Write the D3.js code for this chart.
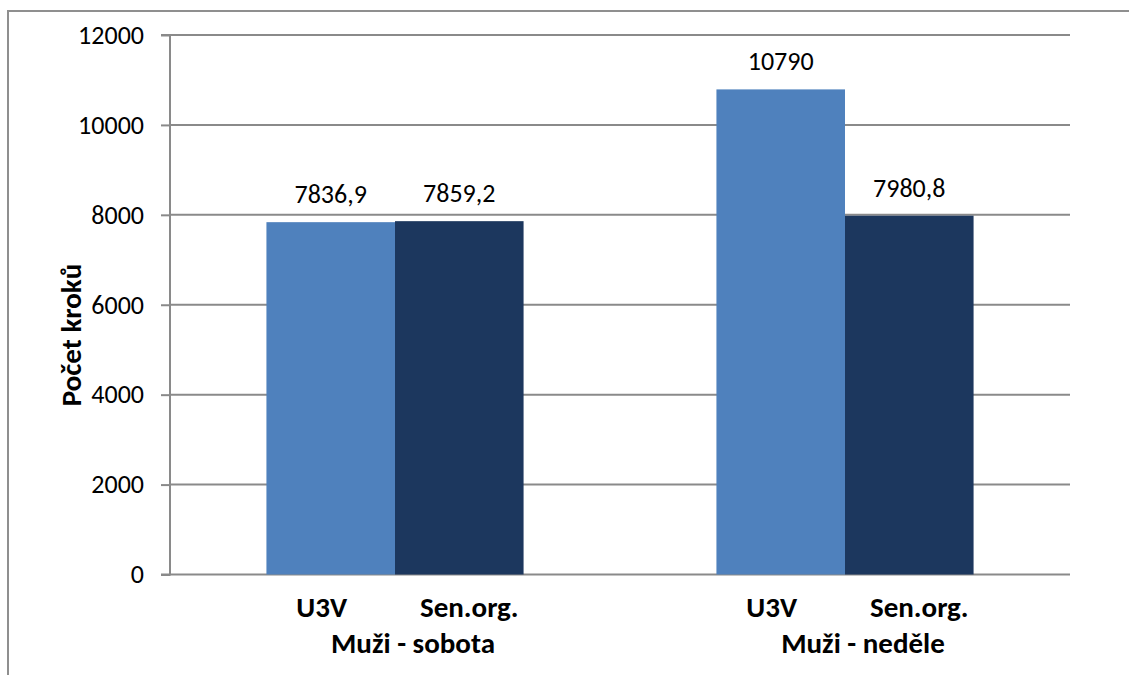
<!DOCTYPE html>
<html>
<head>
<meta charset="utf-8">
<script src="https://cdn.jsdelivr.net/npm/d3@7"></script>
<style>
  html, body { margin: 0; padding: 0; background: #ffffff; }
  svg { display: block; font-family: Carlito, Lato, "Open Sans", sans-serif; }
</style>
</head>
<body>
<svg id="chart" width="1129" height="675"></svg>
<script>
// Average daily step counts for men, weekend days, by group
const categories = ["Muži - sobota", "Muži - neděle"];
const seriesNames = ["U3V", "Sen.org."];
const u3vValues = [7836.9, 10790];
const senOrgValues = [7859.2, 7980.8];
const valueLabels = [["7836,9", "7859,2"], ["10790", "7980,8"]];
const yTicks = [0, 2000, 4000, 6000, 8000, 10000, 12000];
const yTitle = "Počet kroků";

const seriesColors = ["#4f81bd", "#1c375e"];
const gridColor = "#8a8a8a";
const fontFamily = "Carlito, Lato, sans-serif";
const regularSize = 26;
const boldSize = 29;

const svg = d3.select("#chart");
const W = 1129, H = 675;
const plot = { left: 170, right: 1070, top: 35, bottom: 574.5 };

svg.append("rect").attr("width", W).attr("height", H).attr("fill", "#ffffff");

// Outer chart frame (only top and left edges fall inside the page)
svg.append("path")
  .attr("d", `M8,${H + 2} L8,11 L${W + 2},11`)
  .attr("fill", "none")
  .attr("stroke", "#8f8f8f")
  .attr("stroke-width", 2);

const rows = categories.map((c, i) => ({
  category: c,
  values: [u3vValues[i], senOrgValues[i]],
  labels: valueLabels[i]
}));

const y = d3.scaleLinear().domain([0, 12000]).range([plot.bottom, plot.top]);
const x0 = d3.scaleBand().domain(categories).range([plot.left, plot.right]).padding(0);
// gap between groups is 150% of a bar width: group = 3.5 bars
const barW = x0.bandwidth() / 3.5;
const x1 = d3.scaleBand().domain(seriesNames)
  .range([barW * 0.75, barW * 2.75]).padding(0);

// Y axis with tick marks
const yAxis = d3.axisLeft(y).tickValues(yTicks).tickSize(9).tickPadding(17).tickFormat(d3.format("d"));
const yg = svg.append("g").attr("transform", `translate(${plot.left},0)`).call(yAxis);
yg.select(".domain").attr("stroke", gridColor).attr("stroke-width", 2)
  .attr("d", `M-9,${plot.top}H0V${plot.bottom}H-9`);
yg.selectAll(".tick line").attr("stroke", gridColor).attr("stroke-width", 2);
yg.selectAll(".tick text")
  .attr("fill", "#000").attr("font-size", regularSize).attr("font-family", fontFamily)
  .attr("dy", "0.32em");

// Horizontal gridlines
svg.append("g").selectAll("line")
  .data(yTicks)
  .join("line")
  .attr("x1", plot.left).attr("x2", plot.right)
  .attr("y1", d => y(d)).attr("y2", d => y(d))
  .attr("stroke", gridColor).attr("stroke-width", 2);

// Bars
const groups = svg.append("g").selectAll("g")
  .data(rows)
  .join("g")
  .attr("transform", d => `translate(${x0(d.category)},0)`);

const cells = d => d.values.map((v, j) => ({ v, j, name: seriesNames[j], label: d.labels[j] }));

groups.selectAll("rect")
  .data(cells)
  .join("rect")
  .attr("x", d => x1(d.name))
  .attr("width", x1.bandwidth())
  .attr("y", d => y(d.v))
  .attr("height", d => y(0) - y(d.v))
  .attr("fill", d => seriesColors[d.j]);

// Value labels above bars
groups.selectAll("text.val")
  .data(cells)
  .join("text")
  .attr("class", "val")
  .attr("x", d => x1(d.name) + x1.bandwidth() / 2)
  .attr("y", d => y(d.v) - 19)
  .attr("text-anchor", "middle")
  .attr("font-size", regularSize)
  .attr("fill", "#000")
  .text(d => d.label);

// Inner category labels (series names) under each bar
const innerShift = [-9, 10];
groups.selectAll("text.inner")
  .data(seriesNames)
  .join("text")
  .attr("class", "inner")
  .attr("x", (d, j) => x1(d) + x1.bandwidth() / 2 + innerShift[j])
  .attr("y", 617)
  .attr("text-anchor", "middle")
  .attr("font-size", boldSize)
  .attr("font-weight", "bold")
  .attr("fill", "#000")
  .text(d => d);

// Outer category labels
groups.append("text")
  .attr("x", x0.bandwidth() / 2 + 18)
  .attr("y", 653)
  .attr("text-anchor", "middle")
  .attr("font-size", boldSize)
  .attr("font-weight", "bold")
  .attr("fill", "#000")
  .text(d => d.category);

// Y axis title
svg.append("text")
  .attr("transform", "translate(81,335) rotate(-90)")
  .attr("text-anchor", "middle")
  .attr("font-size", boldSize)
  .attr("font-weight", "bold")
  .attr("fill", "#000")
  .text(yTitle);
</script>
</body>
</html>
